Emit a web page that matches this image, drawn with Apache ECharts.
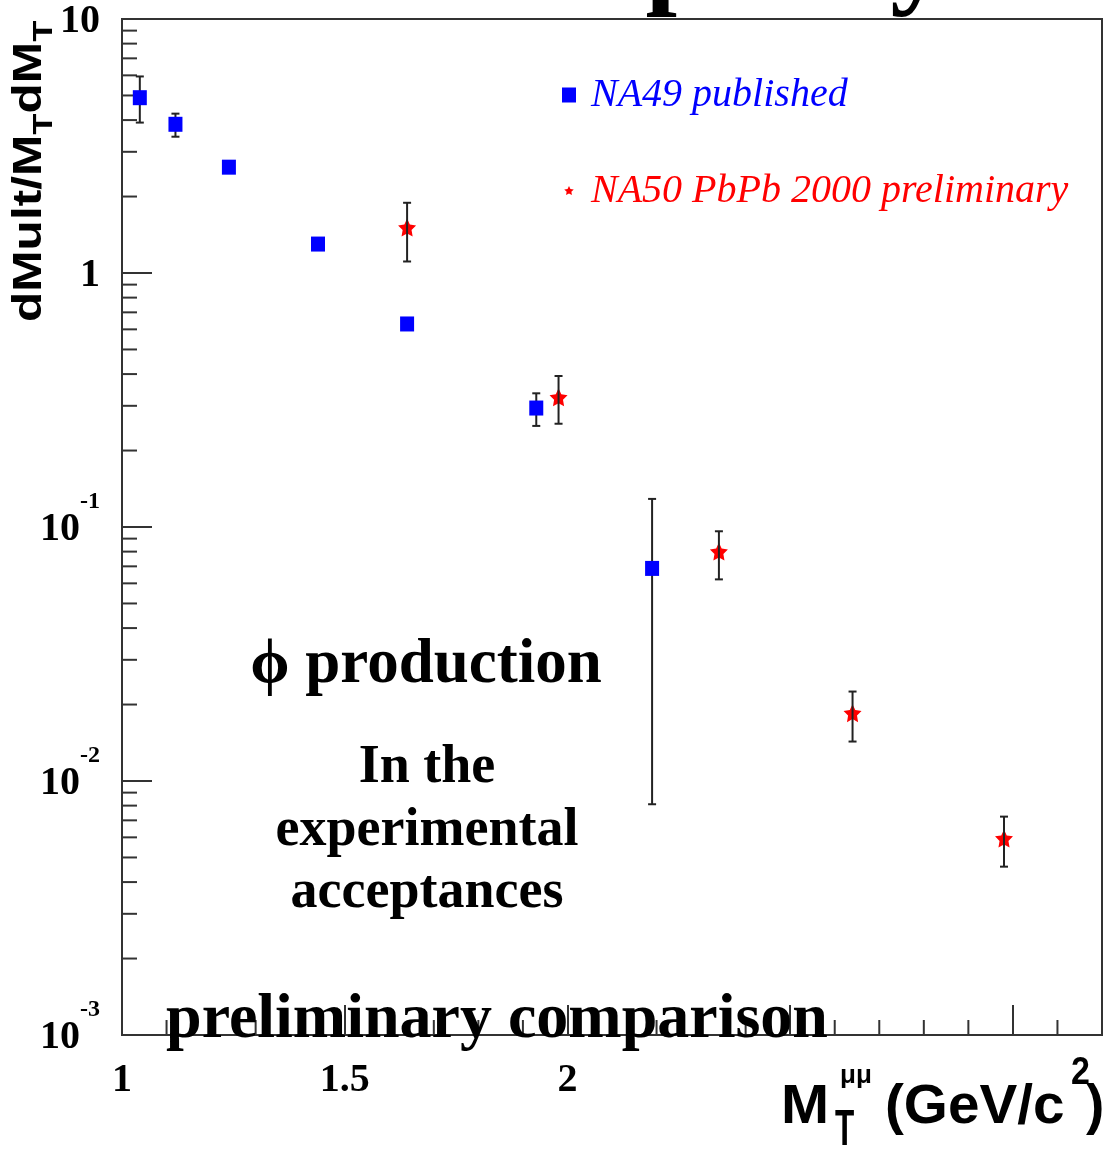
<!DOCTYPE html>
<html>
<head>
<meta charset="utf-8">
<script src="https://cdn.jsdelivr.net/npm/echarts@6/dist/echarts.min.js"></script>
<style>
  html, body { margin: 0; padding: 0; background: #fff; }
  #chart { width: 1106px; height: 1151px; }
</style>
</head>
<body>
<div id="chart"></div>
<script>
// NA49 published phi spectrum
const na49X  = [1.04, 1.12, 1.24, 1.44, 1.64, 1.93, 2.19];
const na49Y  = [4.9, 3.85, 2.61, 1.30, 0.63, 0.294, 0.0687];
const na49Lo = [3.91, 3.44, null, null, null, 0.25, 0.0081];
const na49Hi = [5.94, 4.24, null, null, null, 0.336, 0.129];

// NA50 PbPb 2000 preliminary phi spectrum
const na50X  = [1.64, 1.98, 2.34, 2.64, 2.98];
const na50Y  = [1.51, 0.324, 0.080, 0.0185, 0.00594];
const na50Lo = [1.11, 0.255, 0.0622, 0.0143, 0.0046];
const na50Hi = [1.89, 0.393, 0.0962, 0.0225, 0.00724];

// axis ticks
const xTickLabels = [1, 1.5, 2];
const xMinorTicks = [1.1, 1.2, 1.3, 1.4, 1.6, 1.7, 1.8, 1.9, 2.1, 2.2, 2.3, 2.4,
                     2.6, 2.7, 2.8, 2.9, 3.1];
const yMinorTicks = [0.002, 0.003, 0.004, 0.005, 0.006, 0.007, 0.008, 0.009,
                     0.02, 0.03, 0.04, 0.05, 0.06, 0.07, 0.08, 0.09,
                     0.2, 0.3, 0.4, 0.5, 0.6, 0.7, 0.8, 0.9,
                     2, 3, 4, 5, 6, 7, 8, 9];

const SERIF = 'Liberation Serif';
const SANS = 'Liberation Sans';
const AXIS_COLOR = '#333';
const STAR_PATH = 'M0,-10L2.9,-4L9.51,-3.09L4.7,1.5L5.88,8.09L0,5L-5.88,8.09L-4.7,1.5L-9.51,-3.09L-2.9,-4Z';
const STAR = 'path://' + STAR_PATH;
// same star with empty margin so the legend icon comes out smaller
const STAR_SMALL = 'path://M-14,-14M14,14' + STAR_PATH;

function zip(xs, ys) { return xs.map((x, i) => [x, ys[i]]); }
function errData(xs, lo, hi) {
  const out = [];
  xs.forEach((x, i) => { if (lo[i] != null) out.push([x, lo[i], hi[i]]); });
  return out;
}

function renderErr(params, api) {
  const x = api.value(0);
  const top = api.coord([x, api.value(2)]);
  const bot = api.coord([x, api.value(1)]);
  const w = 4;
  const st = { stroke: '#222', lineWidth: 2 };
  return {
    type: 'group',
    children: [
      { type: 'line', shape: { x1: top[0], y1: top[1], x2: bot[0], y2: bot[1] }, style: st },
      { type: 'line', shape: { x1: top[0] - w, y1: top[1], x2: top[0] + w, y2: top[1] }, style: st },
      { type: 'line', shape: { x1: bot[0] - w, y1: bot[1], x2: bot[0] + w, y2: bot[1] }, style: st }
    ]
  };
}

function renderYMinor(params, api) {
  const c = api.coord([api.value(0), api.value(1)]);
  return { type: 'line', shape: { x1: c[0], y1: c[1], x2: c[0] + 15, y2: c[1] },
           style: { stroke: AXIS_COLOR, lineWidth: 2 } };
}
function renderXMinor(params, api) {
  const c = api.coord([api.value(0), api.value(1)]);
  return { type: 'line', shape: { x1: c[0], y1: c[1], x2: c[0], y2: c[1] - 15 },
           style: { stroke: AXIS_COLOR, lineWidth: 2 } };
}

function serifText(text, x, y, size, extra) {
  return Object.assign({
    type: 'text', x: x, y: y, z: 50, silent: true,
    style: { text: text, fill: '#000', font: 'bold ' + size + 'px "' + SERIF + '"',
             align: 'center', verticalAlign: 'middle',
             textAlign: 'center', textVerticalAlign: 'middle' }
  }, extra || {});
}
function sansText(text, x, y, size, extra) {
  return Object.assign({
    type: 'text', x: x, y: y, z: 50, silent: true,
    style: { text: text, fill: '#000', font: 'bold ' + size + 'px "' + SANS + '"',
             align: 'left', verticalAlign: 'middle',
             textAlign: 'left', textVerticalAlign: 'middle' }
  }, extra || {});
}

const chart = echarts.init(document.getElementById('chart'), null, { renderer: 'canvas' });

chart.setOption({
  animation: false,
  backgroundColor: '#fff',
  grid: {
    left: 122, right: 4, top: 19, bottom: 116,
    show: true, borderColor: AXIS_COLOR, borderWidth: 2,
    containLabel: false, outerBoundsMode: 'none'
  },
  legend: {
    orient: 'vertical', left: 557, top: 70, itemGap: 56,
    itemWidth: 14, itemHeight: 15,
    textStyle: { fontFamily: SERIF, fontStyle: 'italic', fontSize: 40, padding: [0, 0, 0, 10] },
    data: [
      { name: 'NA49 published', icon: 'rect', textStyle: { color: '#0000ff' } },
      { name: 'NA50 PbPb 2000 preliminary', icon: STAR_SMALL, textStyle: { color: '#ff0000' } }
    ],
    selectedMode: false
  },
  xAxis: {
    type: 'value', min: 1, max: 3.2, interval: 0.5,
    axisLine: { lineStyle: { color: AXIS_COLOR, width: 2 } },
    axisTick: { inside: true, length: 30, lineStyle: { color: AXIS_COLOR, width: 2 } },
    splitLine: { show: false },
    axisLabel: {
      margin: 26, color: '#000', fontFamily: SERIF, fontWeight: 'bold', fontSize: 40,
      formatter: v => xTickLabels.some(t => Math.abs(t - v) < 1e-6) ? String(v) : ''
    }
  },
  yAxis: {
    type: 'log', logBase: 10, min: 0.001, max: 10,
    axisLine: { lineStyle: { color: AXIS_COLOR, width: 2 } },
    axisTick: { inside: true, length: 30, lineStyle: { color: AXIS_COLOR, width: 2 } },
    splitLine: { show: false },
    axisLabel: {
      margin: 22, align: 'right', padding: [0, 0, 14, 0],
      formatter: v => {
        const e = Math.round(Math.log10(v));
        if (e >= 0) return '{m|' + Math.pow(10, e) + '}';
        return '{m|10}{e|' + e + '}';
      },
      rich: {
        m: { fontFamily: SERIF, fontWeight: 'bold', fontSize: 40, lineHeight: 60,
             color: '#000', verticalAlign: 'bottom' },
        e: { fontFamily: SERIF, fontWeight: 'bold', fontSize: 24, lineHeight: 16,
             color: '#000', verticalAlign: 'top' }
      }
    }
  },
  series: [
    { type: 'custom', name: 'yMinor', silent: true, z: 1,
      data: yMinorTicks.map(v => [1, v]), renderItem: renderYMinor },
    { type: 'custom', name: 'xMinor', silent: true, z: 1,
      data: xMinorTicks.map(v => [v, 0.001]), renderItem: renderXMinor },
    { type: 'custom', name: 'na49Err', silent: true, z: 1,
      data: errData(na49X, na49Lo, na49Hi), encode: { x: 0, y: [1, 2] }, renderItem: renderErr },
    { type: 'scatter', name: 'NA49 published', z: 2,
      symbol: 'rect', symbolSize: [14, 15],
      itemStyle: { color: '#0000ff', opacity: 1 },
      data: zip(na49X, na49Y) },
    { type: 'scatter', name: 'NA50 PbPb 2000 preliminary', z: 2,
      symbol: STAR, symbolSize: 18,
      itemStyle: { color: '#ff0000', opacity: 1 },
      data: zip(na50X, na50Y) },
    { type: 'custom', name: 'na50Err', silent: true, z: 3,
      data: errData(na50X, na50Lo, na50Hi), encode: { x: 0, y: [1, 2] }, renderItem: renderErr }
  ],
  graphic: [
    // page heading running off the top edge
    { type: 'text', x: 388, y: -36, silent: true, z: 50,
      style: { text: 'multiplicity', fill: '#000', font: 'bold 113px "' + SERIF + '"',
               align: 'left', verticalAlign: 'middle', textAlign: 'left', textVerticalAlign: 'middle' } },

    // annotations in the plot area
    serifText('\u03d5 production', 426, 666, 63),
    serifText('In the', 427, 768, 54),
    serifText('experimental', 427, 831, 54),
    serifText('acceptances', 427, 893, 54),
    serifText('preliminary comparison', 497, 1020, 64),

    // y axis title: dMult/M_T dM_T
    { type: 'text', x: 32, y: 322, rotation: Math.PI / 2, scaleX: 1.24, silent: true, z: 50,
      style: {
        text: '{a|dMult/M}{s|T}{a|dM}{s|T}',
        align: 'left', verticalAlign: 'middle', textAlign: 'left', textVerticalAlign: 'middle',
        rich: {
          a: { fontFamily: SANS, fontWeight: 'bold', fontSize: 40, lineHeight: 44,
               verticalAlign: 'top', fill: '#000', color: '#000' },
          s: { fontFamily: SANS, fontWeight: 'bold', fontSize: 28, lineHeight: 28,
               padding: [20, 0, 0, 0], verticalAlign: 'top', fill: '#000', color: '#000' }
        }
      } },

    // x axis title: M_T^mumu (GeV/c^2)
    sansText('M', 781, 1108, 55, { scaleX: 1.05 }),
    sansText('T', 835, 1131, 42, { scaleX: 0.75, scaleY: 1.2 }),
    sansText('\u03bc\u03bc', 840, 1076, 26),
    sansText('(GeV/c', 885, 1108, 55, { scaleX: 1.03 }),
    sansText('2', 1071, 1073, 34, { scaleY: 1.15 }),
    sansText(')', 1086, 1108, 55)
  ]
});
</script>
</body>
</html>
